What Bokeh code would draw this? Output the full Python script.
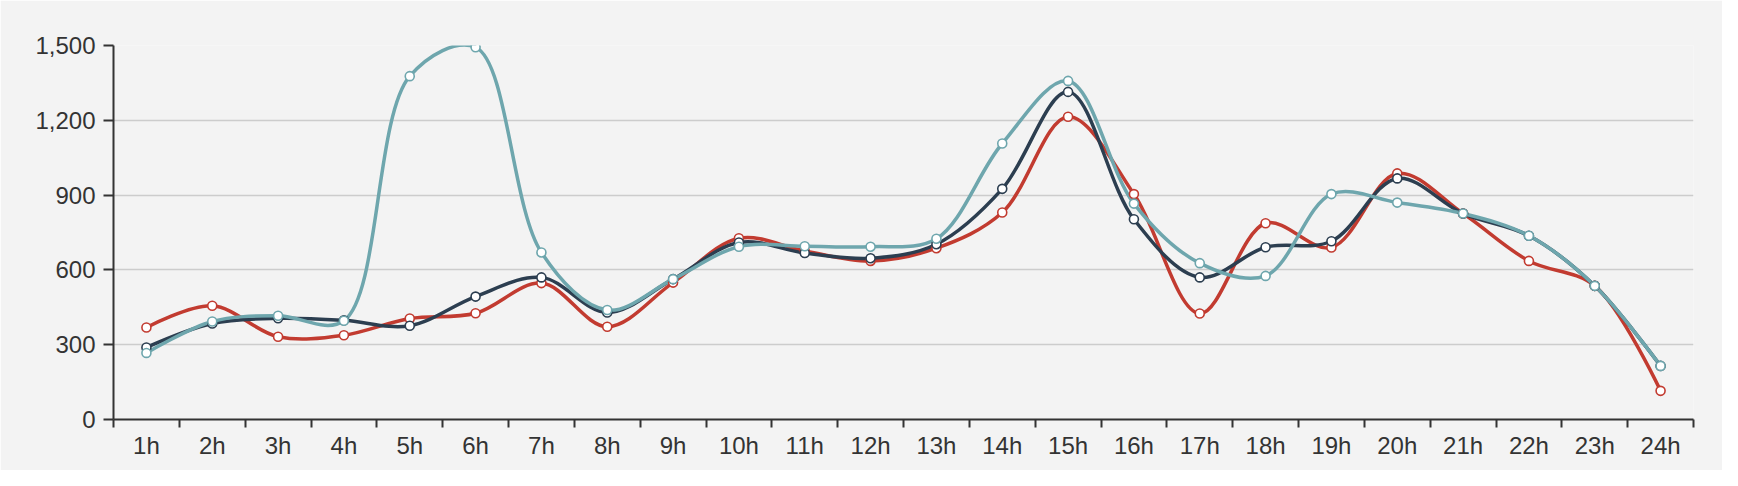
from bokeh.plotting import figure
from bokeh.models import Range1d, FixedTicker, CustomJSTickFormatter, NumeralTickFormatter
from bokeh.embed import file_html
from bokeh.resources import INLINE
import math

hours = [f"{i}h" for i in range(1, 25)]
series_red = [369, 456, 332, 338, 405, 426, 547, 372, 549, 727, 676, 636,
              687, 830, 1214, 904, 425, 787, 690, 987, 826, 636, 536, 115]
series_dark = [289, 385, 406, 398, 376, 493, 570, 429, 563, 710, 668, 647,
               703, 925, 1314, 803, 570, 691, 715, 967, 826, 737, 536, 215]
series_teal = [267, 393, 416, 396, 1377, 1493, 670, 439, 563, 693, 695, 693,
               725, 1107, 1358, 866, 627, 576, 904, 870, 826, 737, 536, 215]
y_ticks = [0, 300, 600, 900, 1200, 1500]

BG = "#f3f3f3"
COLORS = ["#c23b30", "#2c3e50", "#6ea6ad"]
FONT = "Liberation Sans"
FS = "24px"

W, H = 1722, 470
LEFT, TOP = 113, 45
FW, FH = 1580, 374
RIGHT, BOTTOM = W - LEFT - FW, H - TOP - FH

p = figure(width=W, height=H, output_backend="svg", toolbar_location=None,
           x_range=Range1d(0, len(hours)), y_range=Range1d(0, 1500),
           min_border_left=LEFT, min_border_right=RIGHT,
           min_border_top=TOP, min_border_bottom=BOTTOM)
p.background_fill_color = BG
p.border_fill_color = BG
p.outline_line_color = None

# grid
p.xgrid.grid_line_color = None
p.ygrid.grid_line_color = "#cccccc"
p.ygrid.grid_line_width = 1.5
p.ygrid.ticker = FixedTicker(ticks=y_ticks)

# y axis
ya = p.yaxis[0]
ya.ticker = FixedTicker(ticks=y_ticks)
ya.formatter = NumeralTickFormatter(format="0,0")
ya.axis_line_color = "#333333"
ya.axis_line_width = 2
ya.major_tick_line_color = "#333333"
ya.major_tick_line_width = 2
ya.major_tick_out = 10
ya.major_tick_in = 0
ya.minor_tick_line_color = None
ya.major_label_text_font = FONT
ya.major_label_text_font_size = FS
ya.major_label_text_color = "#333333"
ya.major_label_standoff = 8

# x axis: labels at category centres, ticks at boundaries
centers = [i + 0.5 for i in range(len(hours))]
bounds = list(range(len(hours) + 1))
xa = p.xaxis[0]
xa.ticker = FixedTicker(ticks=centers, minor_ticks=bounds)
xa.formatter = CustomJSTickFormatter(args=dict(labels=hours),
                                     code="const i = Math.round(tick - 0.5); return labels[i] || '';")
xa.axis_line_color = "#333333"
xa.axis_line_width = 2
xa.major_tick_line_color = None
xa.minor_tick_line_color = "#333333"
xa.minor_tick_line_width = 2
xa.minor_tick_out = 8
xa.minor_tick_in = 0
xa.major_label_text_font = FONT
xa.major_label_text_font_size = FS
xa.major_label_text_color = "#333333"
xa.major_label_standoff = 4


def catmull_rom(xs, ys, alpha=0.5):
    kx = FW / len(hours)
    ky = FH / 1500.0
    pts = [(x * kx, y * ky) for x, y in zip(xs, ys)]
    n = len(pts)
    out = {k: [] for k in ["x0", "y0", "x1", "y1", "cx0", "cy0", "cx1", "cy1"]}

    def d(a, b):
        return math.hypot(a[0] - b[0], a[1] - b[1])

    for i in range(n - 1):
        p1, p2 = pts[i], pts[i + 1]
        l12 = d(p1, p2)
        l12_a, l12_2a = l12 ** alpha, l12 ** (2 * alpha)
        c1 = p1
        if i > 0:
            p0 = pts[i - 1]
            l01 = d(p0, p1)
            l01_a, l01_2a = l01 ** alpha, l01 ** (2 * alpha)
            if l01_a > 1e-12:
                a = 2 * l01_2a + 3 * l01_a * l12_a + l12_2a
                nn = 3 * l01_a * (l01_a + l12_a)
                c1 = ((p1[0] * a - p0[0] * l12_2a + p2[0] * l01_2a) / nn,
                      (p1[1] * a - p0[1] * l12_2a + p2[1] * l01_2a) / nn)
        c2 = p2
        if i + 2 < n:
            p3 = pts[i + 2]
            l23 = d(p2, p3)
            l23_a, l23_2a = l23 ** alpha, l23 ** (2 * alpha)
            if l23_a > 1e-12:
                b = 2 * l23_2a + 3 * l23_a * l12_a + l12_2a
                m = 3 * l23_a * (l23_a + l12_a)
                c2 = ((p2[0] * b + p1[0] * l23_2a - p3[0] * l12_2a) / m,
                      (p2[1] * b + p1[1] * l23_2a - p3[1] * l12_2a) / m)
        out["x0"].append(p1[0] / kx); out["y0"].append(p1[1] / ky)
        out["x1"].append(p2[0] / kx); out["y1"].append(p2[1] / ky)
        out["cx0"].append(c1[0] / kx); out["cy0"].append(c1[1] / ky)
        out["cx1"].append(c2[0] / kx); out["cy1"].append(c2[1] / ky)
    return out


for vals, col in zip([series_red, series_dark, series_teal], COLORS):
    seg = catmull_rom(centers, vals)
    p.bezier(x0=seg["x0"], y0=seg["y0"], x1=seg["x1"], y1=seg["y1"],
             cx0=seg["cx0"], cy0=seg["cy0"], cx1=seg["cx1"], cy1=seg["cy1"],
             line_color=col, line_width=3.5, line_cap="round")

for vals, col in zip([series_red, series_dark, series_teal], COLORS):
    p.scatter(x=centers, y=vals, size=9, fill_color="white",
              line_color=col, line_width=1.6)

html = file_html(p, INLINE)
html = html.replace("<body>", '<body style="background-color:#f3f3f3;">', 1)
open("out.html", "w").write(html)
